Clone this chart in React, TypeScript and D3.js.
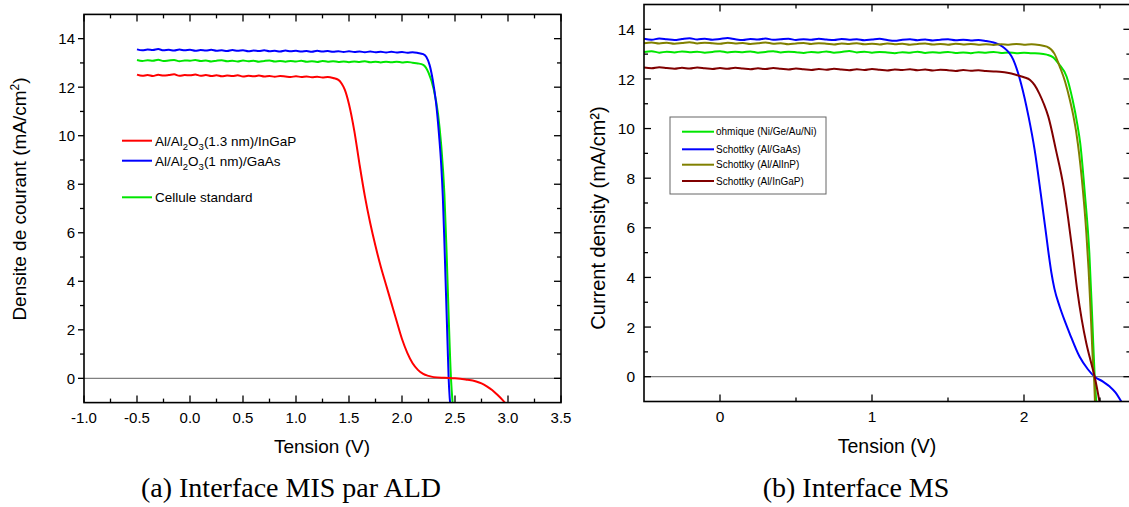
import React from "react";
import * as d3 from "d3";

type Pt = [number, number];

const SANS = "'Liberation Sans', Arial, sans-serif";
const SERIF = "'Liberation Serif', 'Times New Roman', serif";

// ---------------- Panel (a) data: Tension (V) vs J (mA/cm2) ----------------
const leftGreen: Pt[] = [
  [-0.5, 13.12], [-0.45, 13.08], [-0.4, 13.11], [-0.35, 13.09], [-0.3, 13.13], [-0.25, 13.08], [-0.2, 13.1], [-0.15, 13.12],
  [-0.1, 13.07], [-0.05, 13.1], [0, 13.09], [0.05, 13.12], [0.1, 13.08], [0.15, 13.1], [0.2, 13.06], [0.25, 13.09],
  [0.3, 13.11], [0.35, 13.07], [0.4, 13.09], [0.45, 13.06], [0.5, 13.1], [0.55, 13.07], [0.6, 13.09], [0.65, 13.05],
  [0.7, 13.08], [0.75, 13.1], [0.8, 13.06], [0.85, 13.08], [0.9, 13.05], [0.95, 13.08], [1.0, 13.06], [1.05, 13.09],
  [1.1, 13.05], [1.15, 13.07], [1.2, 13.04], [1.25, 13.08], [1.3, 13.05], [1.35, 13.07], [1.4, 13.04], [1.45, 13.06],
  [1.5, 13.03], [1.55, 13.06], [1.6, 13.04], [1.65, 13.07], [1.7, 13.03], [1.75, 13.05], [1.8, 13.02], [1.85, 13.05],
  [1.9, 13.03], [1.95, 13.05], [2.0, 13.02], [2.05, 13.04], [2.1, 13.01], [2.15, 12.98], [2.2, 12.92], [2.25, 12.6],
  [2.3, 11.9], [2.34, 10.9], [2.37, 9.6], [2.4, 7.6], [2.42, 5.3], [2.44, 2.6], [2.462, 0], [2.478, -1.05],
];

const leftBlue: Pt[] = [
  [-0.5, 13.56], [-0.45, 13.52], [-0.4, 13.55], [-0.35, 13.53], [-0.3, 13.57], [-0.25, 13.52], [-0.2, 13.54], [-0.15, 13.51],
  [-0.1, 13.55], [-0.05, 13.52], [0, 13.54], [0.05, 13.5], [0.1, 13.53], [0.15, 13.51], [0.2, 13.54], [0.25, 13.5],
  [0.3, 13.52], [0.35, 13.49], [0.4, 13.53], [0.45, 13.5], [0.5, 13.52], [0.55, 13.48], [0.6, 13.51], [0.65, 13.49],
  [0.7, 13.52], [0.75, 13.48], [0.8, 13.5], [0.85, 13.47], [0.9, 13.51], [0.95, 13.48], [1.0, 13.5], [1.05, 13.47],
  [1.1, 13.49], [1.15, 13.46], [1.2, 13.5], [1.25, 13.47], [1.3, 13.49], [1.35, 13.46], [1.4, 13.48], [1.45, 13.45],
  [1.5, 13.48], [1.55, 13.45], [1.6, 13.47], [1.65, 13.44], [1.7, 13.47], [1.75, 13.44], [1.8, 13.46], [1.85, 13.43],
  [1.9, 13.46], [1.95, 13.43], [2.0, 13.45], [2.05, 13.42], [2.1, 13.44], [2.15, 13.41], [2.2, 13.36], [2.23, 13.24],
  [2.26, 12.92], [2.29, 12.3], [2.32, 11.4], [2.35, 10.0], [2.37, 8.8], [2.385, 7.5], [2.4, 5.6], [2.41, 4.2],
  [2.42, 2.8], [2.43, 1.4], [2.44, 0.0], [2.45, -0.8], [2.456, -1.1],
];

const leftRed: Pt[] = [
  [-0.5, 12.52], [-0.45, 12.47], [-0.4, 12.5], [-0.35, 12.46], [-0.3, 12.51], [-0.25, 12.48], [-0.2, 12.5], [-0.15, 12.53],
  [-0.1, 12.47], [-0.05, 12.5], [0, 12.49], [0.05, 12.52], [0.1, 12.47], [0.15, 12.5], [0.2, 12.46], [0.25, 12.49],
  [0.3, 12.45], [0.35, 12.48], [0.4, 12.46], [0.45, 12.49], [0.5, 12.44], [0.55, 12.47], [0.6, 12.45], [0.65, 12.48],
  [0.7, 12.44], [0.75, 12.46], [0.8, 12.43], [0.85, 12.46], [0.9, 12.44], [0.95, 12.42], [1.0, 12.45], [1.05, 12.42],
  [1.1, 12.44], [1.15, 12.41], [1.2, 12.43], [1.25, 12.4], [1.3, 12.42], [1.35, 12.38], [1.4, 12.3], [1.43, 12.15],
  [1.46, 11.9], [1.5, 11.3], [1.55, 10.2], [1.6, 8.8], [1.65, 7.5], [1.7, 6.4], [1.75, 5.45], [1.8, 4.6],
  [1.85, 3.85], [1.9, 3.1], [1.95, 2.35], [2.0, 1.62], [2.05, 1.05], [2.1, 0.62], [2.15, 0.35], [2.2, 0.18],
  [2.25, 0.1], [2.3, 0.05], [2.4, 0.02], [2.5, 0.0], [2.6, -0.05], [2.7, -0.13], [2.75, -0.21], [2.8, -0.33],
  [2.85, -0.48], [2.9, -0.68], [2.95, -0.9], [2.98, -1.05],
];

const leftXMajor = [-1, -0.5, 0, 0.5, 1, 1.5, 2, 2.5, 3, 3.5];
const leftXMinor = [-0.75, -0.25, 0.25, 0.75, 1.25, 1.75, 2.25, 2.75, 3.25];
const leftYMajor = [0, 2, 4, 6, 8, 10, 12, 14];
const leftYMinor = [1, 3, 5, 7, 9, 11, 13];

// ---------------- Panel (b) data ----------------
const rightGreen: Pt[] = [
  [-0.5, 13.08], [-0.45, 13.12], [-0.4, 13.06], [-0.35, 13.1], [-0.3, 13.07], [-0.25, 13.11], [-0.2, 13.08], [-0.15, 13.1],
  [-0.1, 13.06], [-0.05, 13.09], [0, 13.12], [0.05, 13.07], [0.1, 13.1], [0.15, 13.08], [0.2, 13.11], [0.25, 13.06],
  [0.3, 13.09], [0.35, 13.12], [0.4, 13.07], [0.45, 13.1], [0.5, 13.08], [0.55, 13.05], [0.6, 13.09], [0.65, 13.07],
  [0.7, 13.11], [0.75, 13.06], [0.8, 13.09], [0.85, 13.13], [0.9, 13.07], [0.95, 13.1], [1.0, 13.06], [1.05, 13.09],
  [1.1, 13.07], [1.15, 13.04], [1.2, 13.08], [1.25, 13.06], [1.3, 13.1], [1.35, 13.05], [1.4, 13.08], [1.45, 13.06],
  [1.5, 13.09], [1.55, 13.05], [1.6, 13.07], [1.65, 13.04], [1.7, 13.08], [1.75, 13.06], [1.8, 13.09], [1.85, 13.05],
  [1.9, 13.07], [1.95, 13.04], [2.0, 13.06], [2.05, 13.04], [2.1, 13.03], [2.15, 12.98], [2.19, 12.88], [2.23, 12.6],
  [2.28, 12.1], [2.32, 11.15], [2.35, 10.2], [2.37, 9.4], [2.4, 7.4], [2.43, 4.97], [2.45, 2.2], [2.465, 0],
  [2.476, -1.05],
];

const rightBlue: Pt[] = [
  [-0.5, 13.62], [-0.45, 13.58], [-0.4, 13.63], [-0.35, 13.6], [-0.3, 13.57], [-0.25, 13.61], [-0.2, 13.64], [-0.15, 13.59],
  [-0.1, 13.62], [-0.05, 13.58], [0, 13.61], [0.05, 13.65], [0.1, 13.6], [0.15, 13.57], [0.2, 13.61], [0.25, 13.59],
  [0.3, 13.63], [0.35, 13.58], [0.4, 13.6], [0.45, 13.62], [0.5, 13.57], [0.55, 13.6], [0.6, 13.58], [0.65, 13.62],
  [0.7, 13.59], [0.75, 13.57], [0.8, 13.61], [0.85, 13.58], [0.9, 13.6], [0.95, 13.56], [1.0, 13.59], [1.05, 13.62],
  [1.1, 13.57], [1.15, 13.54], [1.2, 13.58], [1.25, 13.6], [1.3, 13.56], [1.35, 13.59], [1.4, 13.55], [1.45, 13.58],
  [1.5, 13.6], [1.55, 13.56], [1.6, 13.58], [1.65, 13.55], [1.7, 13.57], [1.75, 13.53], [1.8, 13.47], [1.86, 13.3],
  [1.93, 12.77], [1.98, 11.83], [2.03, 10.48], [2.07, 9.14], [2.11, 7.39], [2.14, 6.0], [2.16, 5.05], [2.18, 4.2],
  [2.2, 3.55], [2.235, 2.82], [2.27, 2.22], [2.3, 1.75], [2.366, 0.8], [2.42, 0.3], [2.465, 0], [2.52, -0.2],
  [2.564, -0.4], [2.6, -0.62], [2.64, -1.0],
];

const rightOlive: Pt[] = [
  [-0.5, 13.44], [-0.45, 13.47], [-0.4, 13.43], [-0.35, 13.46], [-0.3, 13.42], [-0.25, 13.45], [-0.2, 13.48], [-0.15, 13.43],
  [-0.1, 13.46], [-0.05, 13.44], [0, 13.42], [0.05, 13.46], [0.1, 13.43], [0.15, 13.45], [0.2, 13.41], [0.25, 13.44],
  [0.3, 13.47], [0.35, 13.42], [0.4, 13.44], [0.45, 13.4], [0.5, 13.43], [0.55, 13.45], [0.6, 13.41], [0.65, 13.44],
  [0.7, 13.42], [0.75, 13.39], [0.8, 13.43], [0.85, 13.41], [0.9, 13.44], [0.95, 13.4], [1.0, 13.42], [1.05, 13.39],
  [1.1, 13.43], [1.15, 13.4], [1.2, 13.42], [1.25, 13.38], [1.3, 13.41], [1.35, 13.43], [1.4, 13.39], [1.45, 13.41],
  [1.5, 13.38], [1.55, 13.42], [1.6, 13.39], [1.65, 13.41], [1.7, 13.38], [1.75, 13.4], [1.8, 13.37], [1.85, 13.4],
  [1.9, 13.38], [1.95, 13.41], [2.0, 13.38], [2.05, 13.4], [2.1, 13.37], [2.15, 13.3], [2.2, 13.02], [2.235, 12.5],
  [2.27, 11.9], [2.3, 11.2], [2.325, 10.5], [2.345, 9.8], [2.38, 8.0], [2.41, 5.8], [2.425, 4.3], [2.44, 2.4],
  [2.455, 0.4], [2.462, -0.2], [2.467, -1.05],
];

const rightDarkRed: Pt[] = [
  [-0.5, 12.46], [-0.45, 12.43], [-0.4, 12.47], [-0.35, 12.44], [-0.3, 12.41], [-0.25, 12.45], [-0.2, 12.42], [-0.15, 12.46],
  [-0.1, 12.43], [-0.05, 12.4], [0, 12.44], [0.05, 12.41], [0.1, 12.45], [0.15, 12.42], [0.2, 12.39], [0.25, 12.43],
  [0.3, 12.4], [0.35, 12.44], [0.4, 12.41], [0.45, 12.38], [0.5, 12.42], [0.55, 12.39], [0.6, 12.36], [0.65, 12.4],
  [0.7, 12.37], [0.75, 12.41], [0.8, 12.38], [0.85, 12.35], [0.9, 12.39], [0.95, 12.36], [1.0, 12.4], [1.05, 12.37],
  [1.1, 12.34], [1.15, 12.38], [1.2, 12.36], [1.25, 12.39], [1.3, 12.35], [1.35, 12.38], [1.4, 12.34], [1.45, 12.37],
  [1.5, 12.35], [1.55, 12.32], [1.6, 12.36], [1.65, 12.33], [1.7, 12.35], [1.75, 12.32], [1.8, 12.3], [1.84, 12.29],
  [1.9, 12.24], [1.95, 12.16], [2.0, 12.07], [2.04, 11.96], [2.07, 11.75], [2.1, 11.42], [2.13, 11.0], [2.16, 10.48],
  [2.21, 9.14], [2.26, 7.66], [2.29, 6.4], [2.32, 5.0], [2.35, 3.5], [2.38, 2.3], [2.41, 1.35], [2.44, 0.6],
  [2.465, 0], [2.498, -1.05],
];

const rightXMajor = [0, 1, 2];
const rightXMinor = [0.5, 1.5, 2.5];
const rightYMajor = [0, 2, 4, 6, 8, 10, 12, 14];
const rightYMinor = [1, 3, 5, 7, 9, 11, 13];

const GREEN = "#00e600";
const BLUE = "#0000ff";
const RED = "#ff0000";
const OLIVE = "#808000";
const DARKRED = "#800000";

type Series = { data: Pt[]; color: string };

type PanelProps = {
  id: string;
  x: d3.ScaleLinear<number, number>;
  y: d3.ScaleLinear<number, number>;
  series: Series[];
  xMajor: number[];
  xMinor: number[];
  yMajor: number[];
  yMinor: number[];
  xFmt: (v: number) => string;
  leftOut: boolean;
  xLabelY: number;
  yLabelX: number;
  tickFont: number;
};

function Panel(p: PanelProps) {
  const [x0, x1] = p.x.range();
  const [yb, yt] = p.y.range();
  const line = d3
    .line<Pt>()
    .x((d) => p.x(d[0]))
    .y((d) => p.y(d[1]))
    .curve(d3.curveMonotoneX);
  const tk = { stroke: "#000", strokeWidth: 1.3 };
  const maj = 7;
  const min = 4;
  return (
    <g>
      <defs>
        <clipPath id={p.id}>
          <rect x={x0} y={yt} width={x1 - x0} height={yb - yt} />
        </clipPath>
      </defs>
      <line x1={x0} x2={x1} y1={p.y(0)} y2={p.y(0)} stroke="#808080" strokeWidth={1.2} />
      <g clipPath={`url(#${p.id})`}>
        {p.series.map((s, i) => (
          <path key={i} d={line(s.data) || ""} fill="none" stroke={s.color} strokeWidth={2} strokeLinejoin="round" />
        ))}
      </g>
      {p.xMajor.map((v) => (
        <g key={"xM" + v}>
          <line x1={p.x(v)} x2={p.x(v)} y1={yb} y2={yb - maj} {...tk} />
          <line x1={p.x(v)} x2={p.x(v)} y1={yt} y2={yt + maj} {...tk} />
          <text x={p.x(v)} y={p.xLabelY} textAnchor="middle" fontFamily={SANS} fontSize={p.tickFont} fill="#000">
            {p.xFmt(v)}
          </text>
        </g>
      ))}
      {p.xMinor.map((v) => (
        <g key={"xm" + v}>
          <line x1={p.x(v)} x2={p.x(v)} y1={yb} y2={yb - min} {...tk} />
          <line x1={p.x(v)} x2={p.x(v)} y1={yt} y2={yt + min} {...tk} />
        </g>
      ))}
      {p.yMajor.map((v) => (
        <g key={"yM" + v}>
          <line x1={p.leftOut ? x0 - 6 : x0} x2={p.leftOut ? x0 : x0 + maj} y1={p.y(v)} y2={p.y(v)} {...tk} />
          <line x1={x1 - maj} x2={x1} y1={p.y(v)} y2={p.y(v)} {...tk} />
          <text x={p.yLabelX} y={p.y(v)} dy="0.36em" textAnchor="end" fontFamily={SANS} fontSize={p.tickFont} fill="#000">
            {String(v)}
          </text>
        </g>
      ))}
      {p.yMinor.map((v) => (
        <g key={"ym" + v}>
          <line x1={p.leftOut ? x0 - 4 : x0} x2={p.leftOut ? x0 : x0 + min} y1={p.y(v)} y2={p.y(v)} {...tk} />
          <line x1={x1 - min} x2={x1} y1={p.y(v)} y2={p.y(v)} {...tk} />
        </g>
      ))}
      <rect x={x0} y={yt} width={x1 - x0} height={yb - yt} fill="none" stroke="#000" strokeWidth={1.6} />
    </g>
  );
}

export default function App() {
  const xL = d3.scaleLinear().domain([-1, 3.5]).range([84, 561]);
  const yL = d3.scaleLinear().domain([-1, 15]).range([402.6, 14.4]);
  const xR = d3.scaleLinear().domain([-0.5, 2.7]).range([644, 1130.4]);
  const yR = d3.scaleLinear().domain([-1, 15]).range([401.5, 4.5]);

  const legL = [
    { color: RED, y: 140.7, kind: "a" },
    { color: BLUE, y: 160.7, kind: "b" },
    { color: GREEN, y: 197.3, kind: "c" },
  ];
  const legR = [
    { color: GREEN, y: 131.7, label: "ohmique (Ni/Ge/Au/Ni)" },
    { color: BLUE, y: 149.3, label: "Schottky (Al/GaAs)" },
    { color: OLIVE, y: 164.7, label: "Schottky (Al/AlInP)" },
    { color: DARKRED, y: 181, label: "Schottky (Al/InGaP)" },
  ];

  return (
    <svg
      width={1129}
      height={507}
      viewBox="0 0 1129 507"
      style={{ position: "absolute", left: 0, top: 0, background: "#fff" }}
    >
      <rect x={0} y={0} width={1129} height={507} fill="#fff" />
      <Panel
        id="clipL"
        x={xL}
        y={yL}
        series={[
          { data: leftGreen, color: GREEN },
          { data: leftBlue, color: BLUE },
          { data: leftRed, color: RED },
        ]}
        xMajor={leftXMajor}
        xMinor={leftXMinor}
        yMajor={leftYMajor}
        yMinor={leftYMinor}
        xFmt={(v) => v.toFixed(1)}
        leftOut={true}
        xLabelY={423}
        yLabelX={75}
        tickFont={15}
      />
      <Panel
        id="clipR"
        x={xR}
        y={yR}
        series={[
          { data: rightGreen, color: GREEN },
          { data: rightBlue, color: BLUE },
          { data: rightOlive, color: OLIVE },
          { data: rightDarkRed, color: DARKRED },
        ]}
        xMajor={rightXMajor}
        xMinor={rightXMinor}
        yMajor={rightYMajor}
        yMinor={rightYMinor}
        xFmt={(v) => String(v)}
        leftOut={false}
        xLabelY={422}
        yLabelX={635}
        tickFont={15.5}
      />

      {/* Left legend */}
      {legL.map((l) => (
        <line key={l.kind} x1={122} x2={152} y1={l.y} y2={l.y} stroke={l.color} strokeWidth={2} />
      ))}
      <text x={155} y={145.5} fontFamily={SANS} fontSize={13.5} fill="#000">
        <tspan>Al/Al</tspan>
        <tspan dy={4} fontSize={9.5}>2</tspan>
        <tspan dy={-4}>O</tspan>
        <tspan dy={4} fontSize={9.5}>3</tspan>
        <tspan dy={-4}>(1.3 nm)/InGaP</tspan>
      </text>
      <text x={155} y={165.5} fontFamily={SANS} fontSize={13.5} fill="#000">
        <tspan>Al/Al</tspan>
        <tspan dy={4} fontSize={9.5}>2</tspan>
        <tspan dy={-4}>O</tspan>
        <tspan dy={4} fontSize={9.5}>3</tspan>
        <tspan dy={-4}>(1 nm)/GaAs</tspan>
      </text>
      <text x={155} y={202} fontFamily={SANS} fontSize={13.5} fill="#000">
        Cellule standard
      </text>

      {/* Right legend */}
      <rect x={670} y={117} width={156} height={77} fill="#fff" stroke="#666" strokeWidth={1} />
      {legR.map((l) => (
        <g key={l.label}>
          <line x1={682} x2={714} y1={l.y} y2={l.y} stroke={l.color} strokeWidth={2} />
          <text x={716} y={l.y + 3.6} fontFamily={SANS} fontSize={10} fill="#000">
            {l.label}
          </text>
        </g>
      ))}

      {/* Axis titles */}
      <text x={322} y={453} textAnchor="middle" fontFamily={SANS} fontSize={19} fill="#000">
        Tension (V)
      </text>
      <text
        transform="translate(26,199) rotate(-90)"
        textAnchor="middle"
        fontFamily={SANS}
        fontSize={19}
        fill="#000"
      >
        <tspan>Densite de courant (mA/cm</tspan>
        <tspan dy={-7} fontSize={12}>2</tspan>
        <tspan dy={7}>)</tspan>
      </text>
      <text x={887} y={453} textAnchor="middle" fontFamily={SANS} fontSize={19.5} fill="#000">
        Tension (V)
      </text>
      <text
        transform="translate(605,218) rotate(-90)"
        textAnchor="middle"
        fontFamily={SANS}
        fontSize={20}
        fill="#000"
      >
        Current density (mA/cm²)
      </text>

      {/* Captions */}
      <text x={291} y={497} textAnchor="middle" fontFamily={SERIF} fontSize={28} fill="#000">
        (a) Interface MIS par ALD
      </text>
      <text x={856} y={497} textAnchor="middle" fontFamily={SERIF} fontSize={28} fill="#000">
        (b) Interface MS
      </text>
    </svg>
  );
}
